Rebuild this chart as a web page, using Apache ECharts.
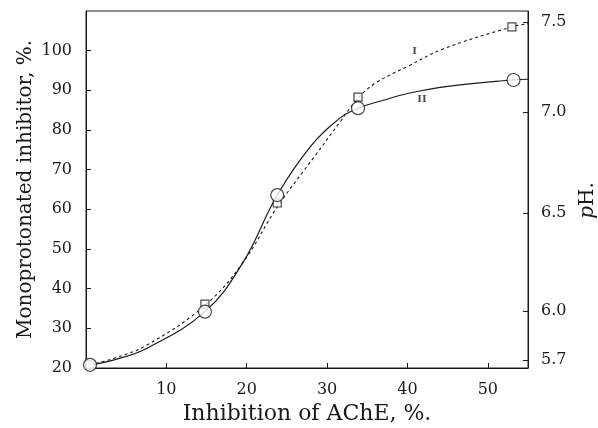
<!DOCTYPE html>
<html>
<head>
<meta charset="utf-8">
<script src="https://cdn.jsdelivr.net/npm/echarts@6/dist/echarts.min.js"></script>
<style>html,body{margin:0;padding:0;background:#fff}#c{width:598px;height:428px}</style>
</head>
<body>
<div id="c"></div>
<script>
// Measured points (x = inhibition of AChE %, y = monoprotonated inhibitor %)
var squaresI = [[0.5,20.8],[14.8,36.1],[23.8,61.6],[33.85,88.3],[53,106.0]];
var circlesII = [[0.5,20.8],[14.8,34.2],[23.8,63.6],[33.85,85.5],[53.2,92.6]];
// Points
var curveI = [[0.5,20.8],[3.4,22.4],[7.6,25.8],[14.8,35.8],[19.5,46.5],[23.8,60.6],[28.5,73.5],[31.6,82],[33.85,88],[36,91.8],[40,96],[44.4,100.4],[53,106],[55,106.8]];
var curveII = [[0.5,20.8],[3.4,22],[7.6,25],[14.8,34.2],[19.5,46.5],[23.8,63.6],[28,76],[31.6,83],[33.85,85.5],[37,87.5],[40,89.2],[45,91],[53,92.6],[55,92.8]];
// Curve labels
var curveLabels = [{name:'I', value:[40.9,99.8]},{name:'II', value:[41.8,87.6]}];
// Right (pH) axis tick labels and their positions on the monoprotonated % scale
var phLabels = ['5.7','6.0','6.5','7.0','7.5'];
var phPos = [22.0, 34.4, 59.1, 84.5, 107.2];
var xTicks = [10,20,30,40,50];
var yTicks = [20,30,40,50,60,70,80,90,100];

var FONT = 'DejaVu Serif';
var ink = '#1a1a1a';
var chart = echarts.init(document.getElementById('c'), null, {renderer:'canvas'});
chart.setOption({
  animation:false,
  backgroundColor:'#fff',
  textStyle:{fontFamily:FONT, color:ink},
  grid:{left:86, right:70, top:11, bottom:60, outerBoundsMode:'none', containLabel:false,
        show:true, borderColor:ink, borderWidth:1, backgroundColor:'transparent'},
  xAxis:{
    type:'value', min:0, max:55, interval:10,
    name:'Inhibition of AChE, %.', nameLocation:'middle', nameGap:34,
    nameTextStyle:{fontFamily:FONT, fontSize:22, color:ink},
    axisLine:{lineStyle:{color:ink, width:1}},
    axisTick:{inside:true, length:5, lineStyle:{color:ink}, customValues:xTicks},
    axisLabel:{fontFamily:FONT, fontSize:16, color:ink, margin:14, customValues:xTicks},
    splitLine:{show:false}
  },
  yAxis:[{
    type:'value', min:20, max:110, interval:10, position:'left',
    name:'Monoprotonated inhibitor, %.', nameLocation:'middle', nameGap:50, nameRotate:90,
    nameMoveOverlap:false,
    nameTextStyle:{fontFamily:FONT, fontSize:20, color:ink},
    axisLine:{show:true, lineStyle:{color:ink, width:1}},
    axisTick:{show:true, inside:true, length:5, lineStyle:{color:ink}, customValues:yTicks},
    axisLabel:{fontFamily:FONT, fontSize:16, color:ink, margin:14, customValues:yTicks},
    splitLine:{show:false}
  },{
    type:'value', min:20, max:110, position:'right',
    name:'{i|p}H.', nameLocation:'middle', nameGap:50, nameRotate:90,
    nameTextStyle:{fontFamily:FONT, fontSize:20, color:ink, padding:[0,22,0,0],
      rich:{i:{fontFamily:FONT, fontStyle:'italic', fontSize:20, color:ink}}},
    axisLine:{show:true, lineStyle:{color:ink, width:1}},
    axisTick:{show:true, inside:true, length:5, lineStyle:{color:ink}, customValues:phPos},
    axisLabel:{fontFamily:FONT, fontSize:16, color:ink, margin:13, customValues:phPos,
      formatter:function(v){var i=phPos.indexOf(v);return i>=0?phLabels[i]:'';}},
    splitLine:{show:false}
  }],
  series:[
    {type:'line', data:curveI, smooth:0.4, symbol:'none', z:2,
     lineStyle:{color:ink, width:1.1, type:[3,3]}},
    {type:'line', data:curveII, smooth:0.4, symbol:'none', z:2,
     lineStyle:{color:ink, width:1.2}},
    {type:'scatter', data:squaresI, symbol:'rect', symbolSize:8, z:3,
     itemStyle:{color:'#fff', borderColor:ink, borderWidth:1.2}},
    {type:'scatter', data:circlesII, symbol:'circle', symbolSize:13, z:4,
     itemStyle:{color:'#fff', borderColor:ink, borderWidth:1.2}},
    {type:'scatter', data:curveLabels, symbolSize:0, z:5,
     label:{show:true, position:'inside', formatter:function(p){return p.name;},
       fontFamily:FONT, fontSize:10, fontWeight:'bold', color:ink}}
  ]
});
</script>
</body>
</html>
